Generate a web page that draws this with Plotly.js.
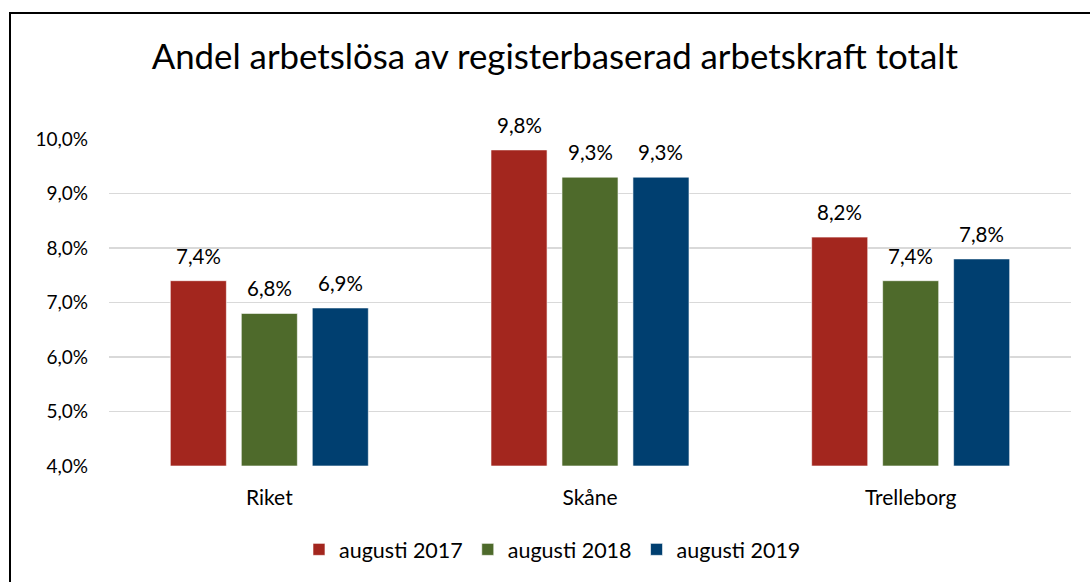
<!DOCTYPE html>
<html>
<head>
<meta charset="utf-8">
<script src="https://cdn.plot.ly/plotly-3.0.1.min.js"></script>
<style>
html,body{margin:0;padding:0;background:#fff;}
#chart{width:1090px;height:582px;position:relative;}
#frame{position:absolute;left:9px;top:12px;width:1200px;height:700px;border:2px solid #000;pointer-events:none;}
#wrap{position:relative;width:1090px;height:582px;overflow:hidden;}
</style>
</head>
<body>
<div id="wrap">
<div id="chart"></div>
<div id="frame"></div>
</div>
<script>
const categories = ["Riket", "Skåne", "Trelleborg"];
const seriesNames = ["augusti 2017", "augusti 2018", "augusti 2019"];
const aug2017 = [7.4, 9.8, 8.2];
const aug2018 = [6.8, 9.3, 7.4];
const aug2019 = [6.9, 9.3, 7.8];
const tickVals = [4, 5, 6, 7, 8, 9, 10];
const tickText = ["4,0%", "5,0%", "6,0%", "7,0%", "8,0%", "9,0%", "10,0%"];
const colors = ["#A3261E", "#4E6A2B", "#003F70"];

const fmt = v => v.toFixed(1).replace(".", ",") + "%";
const values = [aug2017, aug2018, aug2019];
const font = "Lato, 'Open Sans', sans-serif";

const W = 1090, H = 582;
const margin = {l: 109, r: 19, t: 139, b: 116, autoexpand: false};
const bargap = 0.336, bargroupgap = 0.21;
const catWidth = (W - margin.l - margin.r) / categories.length;
const slot = catWidth * (1 - bargap) / values.length;

const traces = values.map((vals, i) => ({
  type: "bar",
  name: seriesNames[i],
  x: categories,
  y: vals.map(v => v - 4),
  base: 4,
  marker: {color: colors[i], line: {color: "rgba(255,255,255,0.6)", width: 1}},
  hoverinfo: "skip"
}));

const annotations = [];
values.forEach((vals, i) => {
  vals.forEach((v, j) => {
    annotations.push({
      x: categories[j], y: v, xref: "x", yref: "y",
      text: fmt(v), showarrow: false,
      xanchor: "center", yanchor: "middle",
      xshift: (i - 1) * slot, yshift: 25,
      font: {family: font, size: 20.5, color: "#000"}
    });
  });
});

const layout = {
  width: W, height: H,
  margin: margin,
  paper_bgcolor: "#fff", plot_bgcolor: "#fff",
  font: {family: font, size: 18, color: "#000"},
  title: {text: "Andel arbetslösa av registerbaserad arbetskraft totalt",
          font: {family: font, size: 34.8, color: "#000"},
          x: 0.509, xanchor: "center", y: 0.902, yanchor: "middle"},
  barmode: "group",
  bargap: bargap,
  bargroupgap: bargroupgap,
  annotations: annotations,
  xaxis: {showgrid: false, zeroline: false, showline: false, ticks: "",
          ticklabelstandoff: 17, automargin: false,
          tickfont: {family: font, size: 21, color: "#000"}, fixedrange: true},
  yaxis: {range: [4, 10], tickvals: tickVals, ticktext: tickText,
          showgrid: true, gridcolor: "#d9d9d9", gridwidth: 1.5, zeroline: false,
          showline: false, ticks: "", ticklen: 0, ticklabelstandoff: 20, automargin: false,
          tickfont: {family: font, size: 19, color: "#000"}, fixedrange: true},
  legend: {orientation: "h", x: 0.461, xanchor: "center", y: -0.255, yanchor: "middle",
           font: {family: font, size: 21.5, color: "#000"}, itemwidth: 30, traceorder: "normal"},
  showlegend: true
};

Plotly.newPlot("chart", traces, layout, {displayModeBar: false, staticPlot: true});
</script>
</body>
</html>
